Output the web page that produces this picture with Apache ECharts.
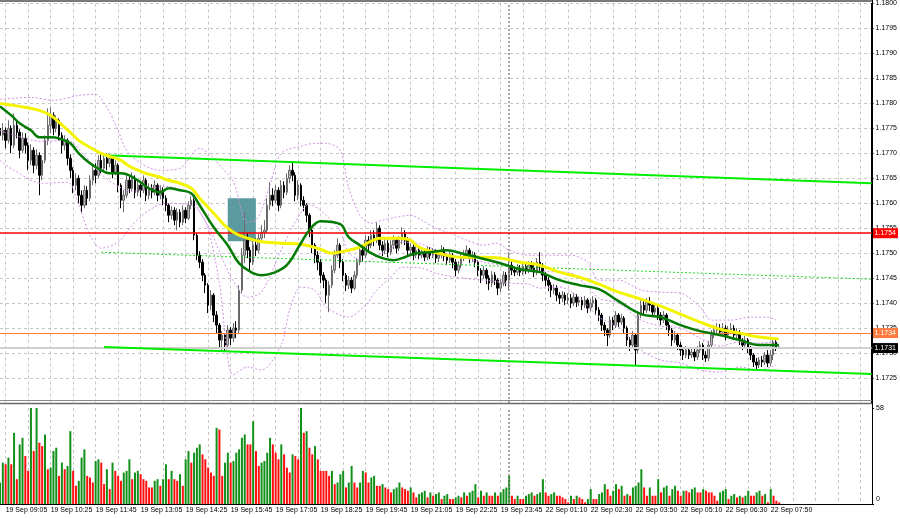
<!DOCTYPE html>
<html><head><meta charset="utf-8">
<script src="https://cdn.jsdelivr.net/npm/echarts@6/dist/echarts.min.js"></script>
<style>html,body{margin:0;padding:0;background:#fff}#c{width:900px;height:519px}</style>
</head><body><div id="c"></div>
<script>
const TICK_LABELS = ["19 Sep 09:05","19 Sep 10:25","19 Sep 11:45","19 Sep 13:05","19 Sep 14:25","19 Sep 15:45","19 Sep 17:05","19 Sep 18:25","19 Sep 19:45","19 Sep 21:05","19 Sep 22:25","19 Sep 23:45","22 Sep 01:10","22 Sep 02:30","22 Sep 03:50","22 Sep 05:10","22 Sep 06:30","22 Sep 07:50"];
const N_SLOTS = 311;
// [open, close, low, high]
const CANDLES = [
[1.17750,1.17736,1.17716,1.17762],[1.17736,1.17746,1.17726,1.17760],[1.17746,1.17726,1.17710,1.17752],[1.17726,1.17750,1.17720,1.17766],[1.17750,1.17716,1.17700,1.17756],
[1.17716,1.17756,1.17710,1.17780],[1.17756,1.17742,1.17730,1.17766],[1.17742,1.17706,1.17690,1.17748],[1.17706,1.17730,1.17700,1.17742],[1.17730,1.17716,1.17700,1.17740],
[1.17716,1.17686,1.17666,1.17722],[1.17686,1.17706,1.17676,1.17718],[1.17706,1.17676,1.17660,1.17712],[1.17676,1.17696,1.17668,1.17708],[1.17696,1.17656,1.17616,1.17702],
[1.17656,1.17686,1.17646,1.17696],[1.17686,1.17726,1.17680,1.17736],[1.17726,1.17756,1.17716,1.17790],[1.17756,1.17776,1.17740,1.17792],[1.17776,1.17750,1.17736,1.17782],
[1.17750,1.17766,1.17742,1.17776],[1.17766,1.17736,1.17726,1.17770],[1.17736,1.17716,1.17700,1.17742],[1.17716,1.17726,1.17706,1.17736],[1.17726,1.17690,1.17676,1.17730],
[1.17690,1.17666,1.17650,1.17698],[1.17666,1.17636,1.17620,1.17672],[1.17636,1.17650,1.17626,1.17660],[1.17650,1.17616,1.17600,1.17656],[1.17616,1.17596,1.17582,1.17626],
[1.17596,1.17626,1.17590,1.17636],[1.17626,1.17610,1.17596,1.17634],[1.17610,1.17646,1.17604,1.17656],[1.17646,1.17666,1.17636,1.17676],[1.17666,1.17656,1.17640,1.17680],
[1.17656,1.17686,1.17650,1.17696],[1.17686,1.17670,1.17660,1.17698],[1.17670,1.17690,1.17664,1.17700],[1.17690,1.17680,1.17666,1.17700],[1.17680,1.17690,1.17672,1.17698],
[1.17690,1.17662,1.17650,1.17694],[1.17662,1.17676,1.17656,1.17686],[1.17676,1.17636,1.17622,1.17680],[1.17636,1.17606,1.17590,1.17640],[1.17606,1.17616,1.17582,1.17626],
[1.17616,1.17646,1.17610,1.17656],[1.17646,1.17630,1.17620,1.17654],[1.17630,1.17650,1.17624,1.17662],[1.17650,1.17622,1.17610,1.17656],[1.17622,1.17636,1.17614,1.17648],
[1.17636,1.17626,1.17612,1.17644],[1.17626,1.17646,1.17620,1.17656],[1.17646,1.17616,1.17604,1.17650],[1.17616,1.17630,1.17608,1.17640],[1.17630,1.17622,1.17610,1.17638],
[1.17622,1.17636,1.17616,1.17646],[1.17636,1.17616,1.17604,1.17640],[1.17616,1.17626,1.17608,1.17636],[1.17626,1.17610,1.17596,1.17632],[1.17610,1.17596,1.17584,1.17616],
[1.17596,1.17576,1.17562,1.17600],[1.17576,1.17586,1.17568,1.17594],[1.17586,1.17566,1.17556,1.17592],[1.17566,1.17582,1.17546,1.17590],[1.17582,1.17562,1.17552,1.17588],
[1.17562,1.17586,1.17556,1.17596],[1.17586,1.17570,1.17560,1.17592],[1.17570,1.17596,1.17566,1.17604],[1.17596,1.17606,1.17588,1.17614],[1.17606,1.17536,1.17526,1.17610],
[1.17536,1.17496,1.17486,1.17540],[1.17496,1.17482,1.17470,1.17504],[1.17482,1.17456,1.17444,1.17488],[1.17456,1.17436,1.17420,1.17460],[1.17436,1.17396,1.17380,1.17440],
[1.17396,1.17416,1.17386,1.17426],[1.17416,1.17376,1.17362,1.17420],[1.17376,1.17356,1.17340,1.17384],[1.17356,1.17326,1.17310,1.17360],[1.17326,1.17336,1.17302,1.17344],
[1.17336,1.17316,1.17304,1.17340],[1.17316,1.17346,1.17310,1.17356],[1.17346,1.17330,1.17316,1.17352],[1.17330,1.17350,1.17322,1.17360],[1.17350,1.17346,1.17330,1.17364],
[1.17346,1.17426,1.17340,1.17436],[1.17426,1.17496,1.17420,1.17510],[1.17496,1.17526,1.17480,1.17582],[1.17526,1.17506,1.17490,1.17540],[1.17506,1.17482,1.17466,1.17512],
[1.17482,1.17516,1.17476,1.17526],[1.17516,1.17506,1.17494,1.17530],[1.17506,1.17530,1.17500,1.17540],[1.17530,1.17542,1.17522,1.17556],[1.17542,1.17546,1.17530,1.17566],
[1.17546,1.17596,1.17540,1.17610],[1.17596,1.17616,1.17586,1.17642],[1.17616,1.17606,1.17594,1.17630],[1.17606,1.17626,1.17600,1.17636],[1.17626,1.17596,1.17584,1.17632],
[1.17596,1.17636,1.17590,1.17646],[1.17636,1.17622,1.17610,1.17644],[1.17622,1.17650,1.17616,1.17660],[1.17650,1.17666,1.17640,1.17676],[1.17666,1.17656,1.17644,1.17682],
[1.17656,1.17616,1.17604,1.17662],[1.17616,1.17636,1.17606,1.17646],[1.17636,1.17606,1.17594,1.17640],[1.17606,1.17596,1.17584,1.17614],[1.17596,1.17576,1.17562,1.17600],
[1.17576,1.17546,1.17532,1.17580],[1.17546,1.17516,1.17500,1.17550],[1.17516,1.17496,1.17480,1.17520],[1.17496,1.17482,1.17466,1.17504],[1.17482,1.17456,1.17440,1.17488],
[1.17456,1.17446,1.17430,1.17462],[1.17446,1.17416,1.17400,1.17450],[1.17416,1.17436,1.17382,1.17444],[1.17436,1.17466,1.17430,1.17476],[1.17466,1.17496,1.17460,1.17506],
[1.17496,1.17516,1.17490,1.17530],[1.17516,1.17482,1.17470,1.17520],[1.17482,1.17456,1.17444,1.17488],[1.17456,1.17436,1.17424,1.17460],[1.17436,1.17446,1.17428,1.17454],
[1.17446,1.17430,1.17420,1.17452],[1.17430,1.17456,1.17426,1.17464],[1.17456,1.17482,1.17450,1.17490],[1.17482,1.17506,1.17476,1.17516],[1.17506,1.17496,1.17484,1.17514],
[1.17496,1.17526,1.17490,1.17536],[1.17526,1.17516,1.17504,1.17534],[1.17516,1.17536,1.17510,1.17546],[1.17536,1.17526,1.17514,1.17546],[1.17526,1.17550,1.17520,1.17562],
[1.17550,1.17516,1.17506,1.17556],[1.17516,1.17506,1.17494,1.17524],[1.17506,1.17520,1.17498,1.17530],[1.17520,1.17502,1.17492,1.17526],[1.17502,1.17516,1.17496,1.17526],
[1.17516,1.17526,1.17508,1.17536],[1.17526,1.17510,1.17500,1.17532],[1.17510,1.17526,1.17504,1.17534],[1.17526,1.17540,1.17518,1.17552],[1.17540,1.17526,1.17516,1.17546],
[1.17526,1.17506,1.17496,1.17532],[1.17506,1.17512,1.17498,1.17520],[1.17512,1.17496,1.17486,1.17518],[1.17496,1.17506,1.17490,1.17514],[1.17506,1.17496,1.17488,1.17512],
[1.17496,1.17502,1.17490,1.17510],[1.17502,1.17492,1.17484,1.17508],[1.17492,1.17506,1.17486,1.17514],[1.17506,1.17496,1.17488,1.17512],[1.17496,1.17502,1.17490,1.17510],
[1.17502,1.17490,1.17480,1.17508],[1.17490,1.17496,1.17482,1.17504],[1.17496,1.17506,1.17490,1.17516],[1.17506,1.17494,1.17484,1.17512],[1.17494,1.17486,1.17476,1.17500],
[1.17486,1.17496,1.17480,1.17504],[1.17496,1.17482,1.17470,1.17500],[1.17482,1.17466,1.17454,1.17488],[1.17466,1.17476,1.17460,1.17484],[1.17476,1.17490,1.17470,1.17498],
[1.17490,1.17496,1.17484,1.17506],[1.17496,1.17506,1.17490,1.17516],[1.17506,1.17490,1.17480,1.17510],[1.17490,1.17496,1.17482,1.17504],[1.17496,1.17482,1.17472,1.17502],
[1.17482,1.17466,1.17454,1.17486],[1.17466,1.17456,1.17440,1.17470],[1.17456,1.17466,1.17448,1.17474],[1.17466,1.17450,1.17438,1.17470],[1.17450,1.17440,1.17426,1.17456],
[1.17440,1.17456,1.17432,1.17464],[1.17456,1.17446,1.17436,1.17462],[1.17446,1.17430,1.17416,1.17450],[1.17430,1.17440,1.17422,1.17448],[1.17440,1.17456,1.17434,1.17464],
[1.17456,1.17446,1.17434,1.17462],[1.17446,1.17476,1.17426,1.17502],[1.17476,1.17466,1.17456,1.17484],[1.17466,1.17462,1.17454,1.17474],[1.17462,1.17470,1.17456,1.17478],
[1.17470,1.17462,1.17454,1.17476],[1.17462,1.17474,1.17456,1.17482],[1.17474,1.17466,1.17458,1.17480],[1.17466,1.17476,1.17460,1.17484],[1.17476,1.17470,1.17462,1.17484],
[1.17470,1.17462,1.17452,1.17476],[1.17462,1.17482,1.17456,1.17490],[1.17482,1.17476,1.17464,1.17502],[1.17476,1.17456,1.17444,1.17480],[1.17456,1.17446,1.17434,1.17462],
[1.17446,1.17436,1.17424,1.17452],[1.17436,1.17426,1.17412,1.17442],[1.17426,1.17430,1.17418,1.17438],[1.17430,1.17416,1.17404,1.17436],[1.17416,1.17410,1.17398,1.17422],
[1.17410,1.17416,1.17402,1.17424],[1.17416,1.17406,1.17396,1.17422],[1.17406,1.17410,1.17398,1.17420],[1.17410,1.17400,1.17390,1.17418],[1.17400,1.17412,1.17394,1.17420],
[1.17412,1.17402,1.17392,1.17418],[1.17402,1.17406,1.17394,1.17414],[1.17406,1.17396,1.17386,1.17412],[1.17396,1.17406,1.17390,1.17414],[1.17406,1.17390,1.17380,1.17410],
[1.17390,1.17400,1.17384,1.17408],[1.17400,1.17406,1.17392,1.17414],[1.17406,1.17386,1.17376,1.17410],[1.17386,1.17376,1.17364,1.17392],[1.17376,1.17356,1.17344,1.17380],
[1.17356,1.17346,1.17334,1.17362],[1.17346,1.17336,1.17314,1.17350],[1.17336,1.17366,1.17330,1.17374],[1.17366,1.17356,1.17346,1.17372],[1.17356,1.17376,1.17350,1.17384],
[1.17376,1.17362,1.17352,1.17380],[1.17362,1.17370,1.17356,1.17378],[1.17370,1.17350,1.17340,1.17374],[1.17350,1.17326,1.17314,1.17354],[1.17326,1.17316,1.17304,1.17332],
[1.17316,1.17336,1.17310,1.17344],[1.17336,1.17306,1.17274,1.17340],[1.17306,1.17376,1.17300,1.17384],[1.17376,1.17396,1.17370,1.17406],[1.17396,1.17386,1.17376,1.17404],
[1.17386,1.17402,1.17380,1.17410],[1.17402,1.17396,1.17384,1.17412],[1.17396,1.17382,1.17372,1.17402],[1.17382,1.17390,1.17376,1.17398],[1.17390,1.17376,1.17366,1.17394],
[1.17376,1.17366,1.17356,1.17382],[1.17366,1.17376,1.17360,1.17384],[1.17376,1.17356,1.17346,1.17380],[1.17356,1.17346,1.17334,1.17362],[1.17346,1.17326,1.17314,1.17350],
[1.17326,1.17336,1.17320,1.17344],[1.17336,1.17316,1.17306,1.17340],[1.17316,1.17306,1.17294,1.17322],[1.17306,1.17296,1.17286,1.17312],[1.17296,1.17306,1.17290,1.17314],
[1.17306,1.17296,1.17288,1.17312],[1.17296,1.17302,1.17290,1.17310],[1.17302,1.17292,1.17284,1.17308],[1.17292,1.17306,1.17286,1.17314],[1.17306,1.17316,1.17300,1.17324],
[1.17316,1.17296,1.17286,1.17320],[1.17296,1.17290,1.17282,1.17304],[1.17290,1.17316,1.17284,1.17324],[1.17316,1.17336,1.17310,1.17346],[1.17336,1.17346,1.17330,1.17356],
[1.17346,1.17350,1.17338,1.17360],[1.17350,1.17342,1.17334,1.17358],[1.17342,1.17350,1.17336,1.17360],[1.17350,1.17336,1.17326,1.17356],[1.17336,1.17346,1.17330,1.17354],
[1.17346,1.17350,1.17338,1.17360],[1.17350,1.17336,1.17326,1.17356],[1.17336,1.17342,1.17330,1.17350],[1.17342,1.17326,1.17316,1.17346],[1.17326,1.17316,1.17306,1.17330],
[1.17316,1.17326,1.17310,1.17334],[1.17326,1.17310,1.17300,1.17330],[1.17310,1.17296,1.17286,1.17314],[1.17296,1.17282,1.17272,1.17300],[1.17282,1.17276,1.17264,1.17290],
[1.17276,1.17286,1.17270,1.17292],[1.17286,1.17282,1.17272,1.17294],[1.17282,1.17296,1.17276,1.17302],[1.17296,1.17280,1.17272,1.17306],[1.17280,1.17296,1.17274,1.17306],
[1.17296,1.17322,1.17286,1.17330],[1.17322,1.17312,1.17304,1.17328],[1.17312,1.17312,1.17308,1.17316]
];
const VOLUME = [
13,25,24,28,24,43,15,36,40,29,20,58,32,58,37,35,42,21,22,32,34,17,25,21,23,44,20,11,14,28,33,
17,16,13,26,27,25,12,21,9,25,20,17,14,19,20,27,15,19,20,18,15,14,10,10,
14,15,11,15,24,15,20,15,14,18,11,27,32,25,31,34,36,30,27,22,19,17,46,45,17,25,31,25,26,31,33,40,42,36,36,50,32,23,25,26,31,40,36,31,27,36,30,22,19,30,29,27,
58,43,44,34,30,35,27,20,20,20,17,20,12,13,18,20,10,13,23,13,10,13,20,19,13,16,17,11,11,12,10,9,7,9,10,13,10,9,8,10,7,4,6,7,
8,4,7,5,6,7,3,5,6,3,3,4,5,4,7,5,7,8,12,4,8,5,7,5,
5,7,5,7,9,10,17,5,3,5,3,3,5,6,7,5,6,7,15,7,5,6,7,5,
5,4,3,1,5,3,5,4,3,1,3,9,3,3,6,
7,12,9,5,8,12,9,11,5,6,5,
10,11,13,21,10,5,10,5,5,15,7,10,11,
5,9,11,8,5,8,8,7,
9,10,7,7,9,8,7,7,5,2,7,8,9,3,5,6,4,5,4,5,8,5,5,
7,8,5,6,1,9,5,2,1
];
// [bar index, price]
const MA_SLOW = [[0,1.17800],[7,1.17794],[14,1.17786],[18,1.17776],[21,1.17762],[25,1.17742],[28,1.17726],[32,1.17712],[36,1.17700],[39,1.17694],[43,1.17686],[46,1.17674],[50,1.17664],[53,1.17658],[57,1.17652],[60,1.17646],[64,1.17640],[68,1.17630],[71,1.17610],[76,1.17580],[81,1.17550],[85,1.17536],[92,1.17524],[100,1.17520],[107,1.17518],[114,1.17508],[118,1.17500],[124,1.17506],[128,1.17512],[132,1.17524],[135,1.17530],[142,1.17530],[146,1.17526],[149,1.17512],[156,1.17500],[164,1.17492],[171,1.17492],[178,1.17490],[185,1.17482],[192,1.17476],[199,1.17462],[206,1.17452],[213,1.17438],[220,1.17422],[228,1.17408],[235,1.17394],[242,1.17378],[249,1.17362],[256,1.17348],[263,1.17340],[270,1.17332],[277,1.17328]];
const MA_FAST = [[0,1.17794],[4,1.17776],[7,1.17760],[11,1.17746],[14,1.17732],[18,1.17732],[21,1.17730],[25,1.17720],[28,1.17700],[32,1.17680],[36,1.17666],[39,1.17660],[43,1.17660],[46,1.17656],[50,1.17642],[53,1.17630],[57,1.17622],[60,1.17630],[64,1.17626],[68,1.17620],[71,1.17596],[76,1.17552],[81,1.17516],[85,1.17480],[90,1.17460],[93,1.17456],[97,1.17460],[102,1.17476],[107,1.17520],[110,1.17546],[114,1.17564],[121,1.17558],[124,1.17532],[128,1.17516],[132,1.17500],[136,1.17490],[140,1.17486],[143,1.17490],[148,1.17500],[153,1.17502],[159,1.17506],[164,1.17500],[171,1.17490],[178,1.17480],[185,1.17468],[192,1.17462],[199,1.17446],[206,1.17436],[213,1.17428],[220,1.17404],[228,1.17378],[235,1.17372],[242,1.17356],[249,1.17344],[256,1.17336],[263,1.17326],[270,1.17316],[277,1.17316]];
const BB_UPPER = [[0,1.17808],[11,1.17812],[19,1.17806],[28,1.17816],[34,1.17818],[38,1.17792],[42,1.17746],[45,1.17706],[50,1.17680],[57,1.17666],[64,1.17670],[71,1.17710],[75,1.17696],[79,1.17670],[83,1.17644],[88,1.17562],[91,1.17566],[93,1.17586],[96,1.17636],[100,1.17700],[107,1.17714],[112,1.17720],[116,1.17720],[121,1.17706],[124,1.17632],[128,1.17576],[132,1.17560],[136,1.17566],[141,1.17572],[146,1.17576],[150,1.17566],[155,1.17550],[160,1.17540],[166,1.17526],[172,1.17516],[177,1.17520],[181,1.17506],[188,1.17496],[197,1.17496],[203,1.17496],[209,1.17482],[213,1.17446],[220,1.17446],[228,1.17426],[235,1.17422],[242,1.17420],[249,1.17392],[253,1.17366],[260,1.17366],[267,1.17372],[273,1.17372],[276,1.17366]];
const BB_MID = [[0,1.17746],[5,1.17736],[15,1.17724],[24,1.17726],[30,1.17696],[36,1.17658],[42,1.17634],[47,1.17624],[53,1.17630],[59,1.17634],[68,1.17616],[71,1.17584],[75,1.17544],[79,1.17490],[83,1.17444],[88,1.17412],[93,1.17422],[100,1.17506],[105,1.17562],[110,1.17598],[116,1.17576],[121,1.17544],[124,1.17502],[130,1.17482],[134,1.17494],[139,1.17510],[143,1.17522],[150,1.17518],[155,1.17506],[162,1.17494],[172,1.17482],[181,1.17474],[192,1.17464],[203,1.17460],[213,1.17410],[220,1.17400],[228,1.17366],[235,1.17354],[242,1.17350],[249,1.17330],[256,1.17314],[263,1.17322],[270,1.17320],[276,1.17322]];
const BB_LOWER = [[0,1.17686],[5,1.17666],[15,1.17640],[24,1.17642],[28,1.17596],[32,1.17536],[36,1.17510],[42,1.17522],[47,1.17556],[53,1.17586],[59,1.17600],[68,1.17596],[71,1.17582],[74,1.17550],[78,1.17442],[83,1.17256],[88,1.17272],[93,1.17266],[100,1.17316],[103,1.17386],[107,1.17432],[112,1.17426],[116,1.17392],[124,1.17372],[130,1.17396],[134,1.17426],[139,1.17452],[143,1.17472],[150,1.17470],[155,1.17460],[162,1.17452],[172,1.17446],[181,1.17440],[188,1.17438],[192,1.17430],[199,1.17432],[206,1.17412],[213,1.17372],[220,1.17352],[228,1.17306],[235,1.17286],[242,1.17280],[249,1.17266],[256,1.17262],[263,1.17272],[270,1.17266],[276,1.17276]];
const LEVEL_RESIST = 1.1754;
const LEVEL_SUPPORT = 1.1734;
const LEVEL_BID = 1.1731;
const CHANNEL_UPPER = [[37,1.17696],[310,1.17640]];
const CHANNEL_LOWER = [[37,1.17312],[310,1.17258]];
const CHANNEL_MID = [[36,1.17502],[310,1.17448]];
const ZONE = [[81,1.17610],[91,1.17524]];
const SEPARATOR = 181;

const slots = Array.from({length:N_SLOTS},(_,i)=>String(i));
const LAST_SLOT = N_SLOTS - 1;
const FONT = 'Liberation Sans';
const gridV = {show:true, interval:(i)=>(i-2)%8===0, lineStyle:{color:'#c6c6c6', type:[3,3], width:1}};
const bandStyle = {color:'#cf8fe6', width:1, type:[2,2]};
const levelLine = (v, color, width, bg) => [
  {coord:[0, v]},
  {coord:[LAST_SLOT, v], lineStyle:{color:color, type:'solid', width:width},
   label:{show:true, position:'end', distance:1, formatter:()=>v.toFixed(4), backgroundColor:bg, color:'#fff', fontSize:7, fontFamily:FONT, padding:[2,2,1,2]}}
];

const chart = echarts.init(document.getElementById('c'), null, {renderer:'canvas'});
chart.setOption({
  animation:false,
  backgroundColor:'#ffffff',
  grid:[{left:0,right:28,top:3,height:400},{left:0,right:28,top:408,height:96}],
  xAxis:[
    {type:'category',gridIndex:0,data:slots,boundaryGap:false,axisLine:{show:false},axisTick:{show:false},axisLabel:{show:false},splitLine:gridV},
    {type:'category',gridIndex:1,data:slots,boundaryGap:false,axisLine:{show:true,lineStyle:{color:'#000',width:1}},axisTick:{show:false},
     axisLabel:{show:true,interval:(i)=>(i-2)%16===0,formatter:(v,i)=>TICK_LABELS[(i-2)/16]||'',align:'left',fontSize:7,fontFamily:FONT,color:'#000',margin:3},splitLine:gridV}
  ],
  yAxis:[
    {type:'value',gridIndex:0,position:'right',min:1.1720,max:1.1800,interval:0.0005,
     axisLine:{show:true,lineStyle:{color:'#000'}},axisTick:{show:true,length:2,lineStyle:{color:'#000'}},
     axisLabel:{showMinLabel:false,formatter:(v)=>v.toFixed(4),fontSize:7,fontFamily:FONT,color:'#000',margin:4},
     splitLine:{show:true,lineStyle:{color:'#c6c6c6',type:[3,3],width:1}}},
    {type:'value',gridIndex:1,position:'right',min:0,max:58,interval:58,
     axisLine:{show:true,lineStyle:{color:'#000'}},axisTick:{show:true,length:2,lineStyle:{color:'#000'}},
     axisLabel:{fontSize:7,fontFamily:FONT,color:'#000',margin:4,formatter:(v)=>v===0?'{lo|0}':'{hi|'+v+'}',rich:{lo:{padding:[0,0,9,0],fontSize:7,fontFamily:FONT},hi:{fontSize:7,fontFamily:FONT}}},
     splitLine:{show:false}}
  ],
  graphic:[
    {type:'line',shape:{x1:0,y1:1,x2:872,y2:1},style:{stroke:'#7a7a7a',lineWidth:2},z:100},
    {type:'line',shape:{x1:0,y1:400.5,x2:872,y2:400.5},style:{stroke:'#8a8a8a',lineWidth:1},z:100},
    {type:'line',shape:{x1:0,y1:403.5,x2:872,y2:403.5},style:{stroke:'#6a6a6a',lineWidth:1.5},z:100},
    {type:'line',shape:{x1:872.5,y1:0,x2:872.5,y2:505},style:{stroke:'#000',lineWidth:1},z:100}
  ],
  series:[
    {type:'line',xAxisIndex:0,yAxisIndex:0,data:[],z:1,silent:true,
     markArea:{silent:true,z:1,itemStyle:{color:'#5b9a9f',opacity:1},data:[[{coord:ZONE[0]},{coord:ZONE[1]}]]}},
    {type:'candlestick',xAxisIndex:0,yAxisIndex:0,data:CANDLES,barWidth:2,z:3,
     itemStyle:{color:'#b8b8b8',color0:'#000000',borderColor:'#6a6a6a',borderColor0:'#000000',borderWidth:1}},
    {type:'line',xAxisIndex:0,yAxisIndex:0,data:BB_UPPER,showSymbol:false,smooth:0.3,lineStyle:bandStyle,z:4,silent:true},
    {type:'line',xAxisIndex:0,yAxisIndex:0,data:BB_MID,showSymbol:false,smooth:0.3,lineStyle:bandStyle,z:4,silent:true},
    {type:'line',xAxisIndex:0,yAxisIndex:0,data:BB_LOWER,showSymbol:false,smooth:0.3,lineStyle:bandStyle,z:4,silent:true},
    {type:'line',xAxisIndex:0,yAxisIndex:0,data:MA_SLOW,showSymbol:false,smooth:0.4,lineStyle:{color:'#f4f400',width:3},z:5,silent:true},
    {type:'line',xAxisIndex:0,yAxisIndex:0,data:MA_FAST,showSymbol:false,smooth:0.4,lineStyle:{color:'#037a03',width:2.5},z:6,silent:true,
     markLine:{silent:true,symbol:['none','none'],animation:false,label:{show:false},
      data:[
        {xAxis:SEPARATOR,lineStyle:{color:'#8c8c8c',type:[2,2],width:1.5}},
        levelLine(LEVEL_BID,'#cfcfcf',2,'#000000'),
        levelLine(LEVEL_SUPPORT,'#ff7a3c',1,'#ff7a3c'),
        levelLine(LEVEL_RESIST,'#ff0000',1.5,'#ff0000'),
        [{coord:CHANNEL_UPPER[0]},{coord:CHANNEL_UPPER[1],lineStyle:{color:'#00ee00',type:'solid',width:2}}],
        [{coord:CHANNEL_LOWER[0]},{coord:CHANNEL_LOWER[1],lineStyle:{color:'#00ee00',type:'solid',width:2}}],
        [{coord:CHANNEL_MID[0]},{coord:CHANNEL_MID[1],lineStyle:{color:'#22dd22',type:[2,2],width:1}}]
      ]}},
    {type:'bar',xAxisIndex:1,yAxisIndex:1,barWidth:2,z:3,silent:true,
     data:VOLUME.map((v,i)=>({value:v,itemStyle:{color:(i===0||v>VOLUME[i-1])?'#11901a':'#ff1010'}})),
     markLine:{silent:true,symbol:['none','none'],label:{show:false},data:[{xAxis:SEPARATOR,lineStyle:{color:'#8c8c8c',type:[2,2],width:1.5}}]}}
  ]
});
</script></body></html>
